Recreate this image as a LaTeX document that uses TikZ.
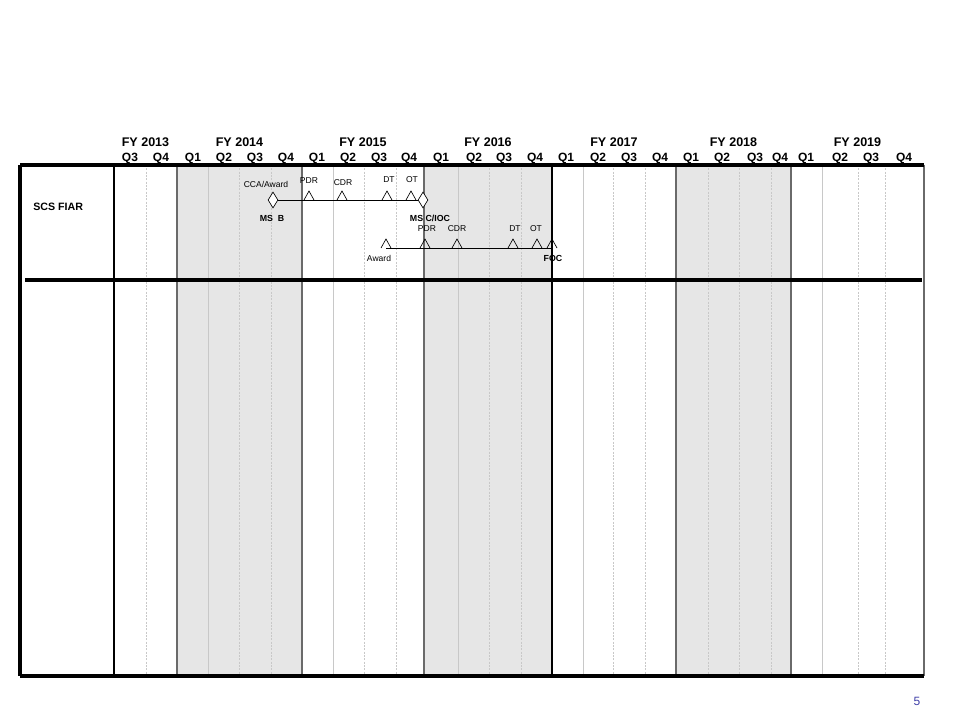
\documentclass[tikz,border=0pt]{standalone}
\usepackage{fontspec}
\setmainfont{Liberation Sans}
\usetikzlibrary{shapes.geometric}
\definecolor{bandgray}{HTML}{E6E6E6}
\definecolor{colline}{HTML}{6A6A6A}
\definecolor{minorline}{HTML}{C8C8C8}
\definecolor{pagenum}{HTML}{3F3FA8}
\begin{document}
\begin{tikzpicture}[x=0.75pt,y=-0.75pt,
  frameline/.style={line width=2.3pt,black},
  majorline/.style={line width=1.1pt,colline},
  minorsolid/.style={line width=0.6pt,minorline},
  minordash/.style={line width=0.6pt,minorline,dash pattern=on 1.5pt off 1pt},
  fyhead/.style={font=\fontsize{9.4}{10}\selectfont\bfseries,inner sep=0pt},
  qhead/.style={font=\fontsize{9}{10}\selectfont\bfseries,inner sep=0pt},
  rowlabel/.style={font=\fontsize{8}{9}\selectfont\bfseries,inner sep=0pt,anchor=west},
  smalllabel/.style={font=\fontsize{6.4}{7}\selectfont,inner sep=0pt},
  msbold/.style={font=\fontsize{6.6}{7}\selectfont\bfseries,inner sep=0pt},
  msdiamond/.style={diamond,draw,fill=white,line width=0.5pt,minimum width=7.5pt,minimum height=12pt,inner sep=0pt},
  schedline/.style={line width=0.6pt,black},
  tri/.pic={\draw[line width=0.5pt] (-5,0) -- (0,-9) -- (5,0);}
]
\useasboundingbox (0,0) rectangle (960,720);
% shaded bands
\fill[bandgray] (177,165) rectangle (302,676);
\fill[bandgray] (424,165) rectangle (552,676);
\fill[bandgray] (676,165) rectangle (791,676);
% minor lines
\foreach \x in {146,239,271,364,396,489,521,613,645,708,739,771,858,885}
  \draw[minordash] (\x,165) -- (\x,676);
\foreach \x in {208,333,458,583,822}
  \draw[minorsolid] (\x,165) -- (\x,676);
% major lines
\foreach \x in {177,302,424,676,791}
  \draw[majorline] (\x,165) -- (\x,676);
\draw[line width=1.1pt,black] (552,165) -- (552,676);
\draw[line width=1.5pt,black] (114,165) -- (114,676);
\draw[line width=1.5pt,colline] (924,165) -- (924,676);
% frame
\draw[frameline] (20,165) -- (924,165);
\draw[frameline] (20,676) -- (924,676);
\draw[frameline] (20,165) -- (20,676);
\draw[frameline] (25,280) -- (922,280);
% header FY
\node[fyhead] (fy13) at (145.5,142) {FY 2013};
\node[fyhead] (fy14) at (239.5,142) {FY 2014};
\node[fyhead] (fy15) at (363,142) {FY 2015};
\node[fyhead] (fy16) at (488,142) {FY 2016};
\node[fyhead] (fy17) at (614,142) {FY 2017};
\node[fyhead] (fy18) at (733.5,142) {FY 2018};
\node[fyhead] (fy19) at (857.5,142) {FY 2019};
% quarters
\foreach \x/\q [count=\i] in {130/Q3,161/Q4,193/Q1,224/Q2,255/Q3,286/Q4,317/Q1,348/Q2,379/Q3,409/Q4,441/Q1,474/Q2,504/Q3,535/Q4,566/Q1,598/Q2,629/Q3,660/Q4,691/Q1,722/Q2,755/Q3,780/Q4,806/Q1,840/Q2,871/Q3,904/Q4}
  \node[qhead] (q\i) at (\x,158) {\q};
% row label
\node[rowlabel] (row1) at (33,207) {SCS FIAR};
% schedule line 1
\node[msdiamond] (msb) at (273,200) {};
\node[msdiamond] (msc) at (423,200) {};
\draw[schedline] (msb) -- (msc);
\coordinate (pdrA) at (309,200);
\coordinate (cdrA) at (342,200);
\coordinate (dtA) at (387,200);
\coordinate (otA) at (411,200);
\foreach \c in {pdrA,cdrA,dtA,otA} \pic at (\c) {tri};
\node[smalllabel] (lcca) at (266,184) {CCA/Award};
\node[smalllabel] (lpdrA) at (309,181) {PDR};
\node[smalllabel] (lcdrA) at (343,183) {CDR};
\node[smalllabel] (ldtA) at (389,180) {DT};
\node[smalllabel] (lotA) at (412,180) {OT};
\node[msbold] (lmsb) at (272,218) {MS\ \ B};
\node[msbold] (lmsc) at (430,218) {MS C/IOC};
% schedule line 2
\coordinate (awB) at (386,248);
\coordinate (pdrB) at (425,248);
\coordinate (cdrB) at (457,248);
\coordinate (dtB) at (513,248);
\coordinate (otB) at (537,248);
\coordinate (focB) at (552,248);
\draw[schedline] (awB) -- (focB);
\foreach \c in {awB,pdrB,cdrB,dtB,otB,focB} \pic at (\c) {tri};
\node[smalllabel] (lpdrB) at (427,229) {PDR};
\node[smalllabel] (lcdrB) at (457,229) {CDR};
\node[smalllabel] (ldtB) at (515,229) {DT};
\node[smalllabel] (lotB) at (536,229) {OT};
\node[smalllabel] (lawB) at (379,258) {Award};
\node[msbold] (lfoc) at (553,258) {FOC};
% page number
\node[font=\fontsize{9}{10}\selectfont,text=pagenum,inner sep=0pt] (pnum) at (917,701) {5};
\end{tikzpicture}
\end{document}
